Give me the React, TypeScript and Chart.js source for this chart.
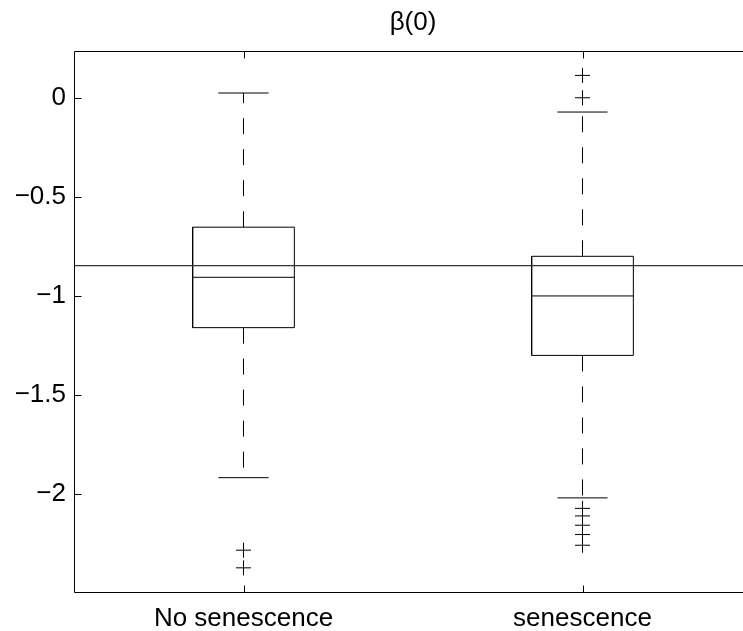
import React, { useEffect, useRef } from "react";
import { Chart, registerables } from "chart.js";

Chart.register(...registerables);

const title = "β(0)";
const categories = ["No senescence", "senescence"];
const q1 = [-1.16, -1.3];
const median = [-0.906, -1.0];
const q3 = [-0.653, -0.8];
const lowerWhisker = [-1.917, -2.019];
const upperWhisker = [0.024, -0.072];
const outliers = [
  [-2.283, -2.372],
  [0.113, 0.0, -2.072, -2.11, -2.157, -2.204, -2.258],
];
const referenceLine = -0.847;
const yTicks = [-2, -1.5, -1, -0.5, 0];
const yMin = -2.499;
const yMax = 0.236;
const xMin = 0.5;
const xMax = 2.5;

const BOX_HALF = 0.15;
const CAP_HALF = 0.074;
const FONT = "'Liberation Sans', Arial, Helvetica, sans-serif";
const FONT_SIZE = 26;

function fmt(v: number): string {
  return v < 0 ? "\u2212" + String(Math.abs(v)) : String(v);
}

const framePlugin = {
  id: "matlabFrame",
  afterDatasetsDraw(chart: any) {
    const { ctx, chartArea, scales } = chart;
    const { left, right, top, bottom } = chartArea;
    const L = Math.round(left) + 0.5;
    const R = Math.round(right) - 0.5;
    const T = Math.round(top) + 0.5;
    const B = Math.round(bottom) - 0.5;
    ctx.save();
    ctx.strokeStyle = "#000";
    ctx.lineWidth = 1;
    ctx.beginPath();
    ctx.rect(L, T, R - L, B - T);
    ctx.stroke();
    const tl = 7;
    ctx.beginPath();
    yTicks.forEach((v) => {
      const y = Math.round(scales.y.getPixelForValue(v)) + 0.5;
      ctx.moveTo(L, y);
      ctx.lineTo(L + tl, y);
      ctx.moveTo(R, y);
      ctx.lineTo(R - tl, y);
    });
    categories.forEach((_, i) => {
      const x = Math.round(scales.x.getPixelForValue(i + 1)) + 0.5;
      ctx.moveTo(x, B);
      ctx.lineTo(x, B - tl);
      ctx.moveTo(x, T);
      ctx.lineTo(x, T + tl);
    });
    ctx.stroke();
    // title, centred over the axes
    ctx.fillStyle = "#000";
    ctx.font = `${FONT_SIZE}px ${FONT}`;
    ctx.textAlign = "center";
    ctx.textBaseline = "middle";
    ctx.fillText(title, (left + right) / 2, 23);
    ctx.restore();
  },
};

function lineDs(data: { x: number; y: number }[], extra: any = {}) {
  return {
    type: "scatter",
    data,
    showLine: true,
    borderColor: "#000",
    backgroundColor: "#000",
    borderWidth: 1,
    pointRadius: 0,
    fill: false,
    tension: 0,
    ...extra,
  };
}

export default function App() {
  const canvasRef = useRef<HTMLCanvasElement | null>(null);

  useEffect(() => {
    if (!canvasRef.current) return;
    Chart.defaults.font.family = FONT;
    Chart.defaults.color = "#000";

    const datasets: any[] = [];
    datasets.push(
      lineDs(
        [
          { x: xMin, y: referenceLine },
          { x: xMax, y: referenceLine },
        ],
        { borderColor: "#333", borderWidth: 1.3 }
      )
    );
    categories.forEach((_, i) => {
      const c = i + 1;
      datasets.push(
        lineDs([
          { x: c - BOX_HALF, y: q1[i] },
          { x: c + BOX_HALF, y: q1[i] },
          { x: c + BOX_HALF, y: q3[i] },
          { x: c - BOX_HALF, y: q3[i] },
          { x: c - BOX_HALF, y: q1[i] },
        ])
      );
      datasets.push(
        lineDs([
          { x: c - BOX_HALF, y: median[i] },
          { x: c + BOX_HALF, y: median[i] },
        ])
      );
      datasets.push(
        lineDs(
          [
            { x: c, y: q3[i] },
            { x: c, y: upperWhisker[i] },
          ],
          { borderDash: [16, 15] }
        )
      );
      datasets.push(
        lineDs(
          [
            { x: c, y: q1[i] },
            { x: c, y: lowerWhisker[i] },
          ],
          { borderDash: [16, 15] }
        )
      );
      datasets.push(
        lineDs([
          { x: c - CAP_HALF, y: upperWhisker[i] },
          { x: c + CAP_HALF, y: upperWhisker[i] },
        ])
      );
      datasets.push(
        lineDs([
          { x: c - CAP_HALF, y: lowerWhisker[i] },
          { x: c + CAP_HALF, y: lowerWhisker[i] },
        ])
      );
      datasets.push({
        type: "scatter",
        data: outliers[i].map((v) => ({ x: c, y: v })),
        showLine: false,
        pointStyle: "cross",
        pointRadius: 7.5,
        pointBorderWidth: 1,
        borderColor: "#000",
        backgroundColor: "#000",
        borderWidth: 1,
      });
    });

    const chart = new Chart(canvasRef.current, {
      type: "scatter",
      data: { datasets },
      plugins: [framePlugin],
      options: {
        responsive: false,
        animation: false,
        devicePixelRatio: 1,
        events: [],
        layout: { padding: { left: 0, right: 18, top: 51, bottom: 0 } },
        plugins: {
          legend: { display: false },
          tooltip: { enabled: false },
          title: { display: false },
        },
        scales: {
          x: {
            type: "linear",
            min: xMin,
            max: xMax,
            grid: { display: false, drawTicks: false },
            border: { display: false },
            afterBuildTicks: (s: any) => {
              s.ticks = categories.map((_, i) => ({ value: i + 1 }));
            },
            afterFit: (s: any) => {
              s.height = 38;
            },
            ticks: {
              autoSkip: false,
              maxRotation: 0,
              padding: 10,
              font: { size: FONT_SIZE, family: FONT },
              color: "#000",
              callback: (v: any) => categories[Number(v) - 1] ?? "",
            },
          },
          y: {
            type: "linear",
            min: yMin,
            max: yMax,
            grid: { display: false, drawTicks: false },
            border: { display: false },
            afterBuildTicks: (s: any) => {
              s.ticks = yTicks.map((v) => ({ value: v }));
            },
            afterFit: (s: any) => {
              s.width = 74;
            },
            ticks: {
              autoSkip: false,
              padding: 8,
              font: { size: FONT_SIZE, family: FONT },
              color: "#000",
              callback: (v: any) => fmt(Number(v)),
            },
          },
        },
      } as any,
    } as any);
    return () => chart.destroy();
  }, []);

  return (
    <div
      style={{
        position: "fixed",
        left: 0,
        top: 0,
        width: 743,
        height: 631,
        overflow: "hidden",
        background: "#fff",
      }}
    >
      <canvas ref={canvasRef} width={770} height={631} style={{ display: "block", width: 770, height: 631 }} />
    </div>
  );
}
